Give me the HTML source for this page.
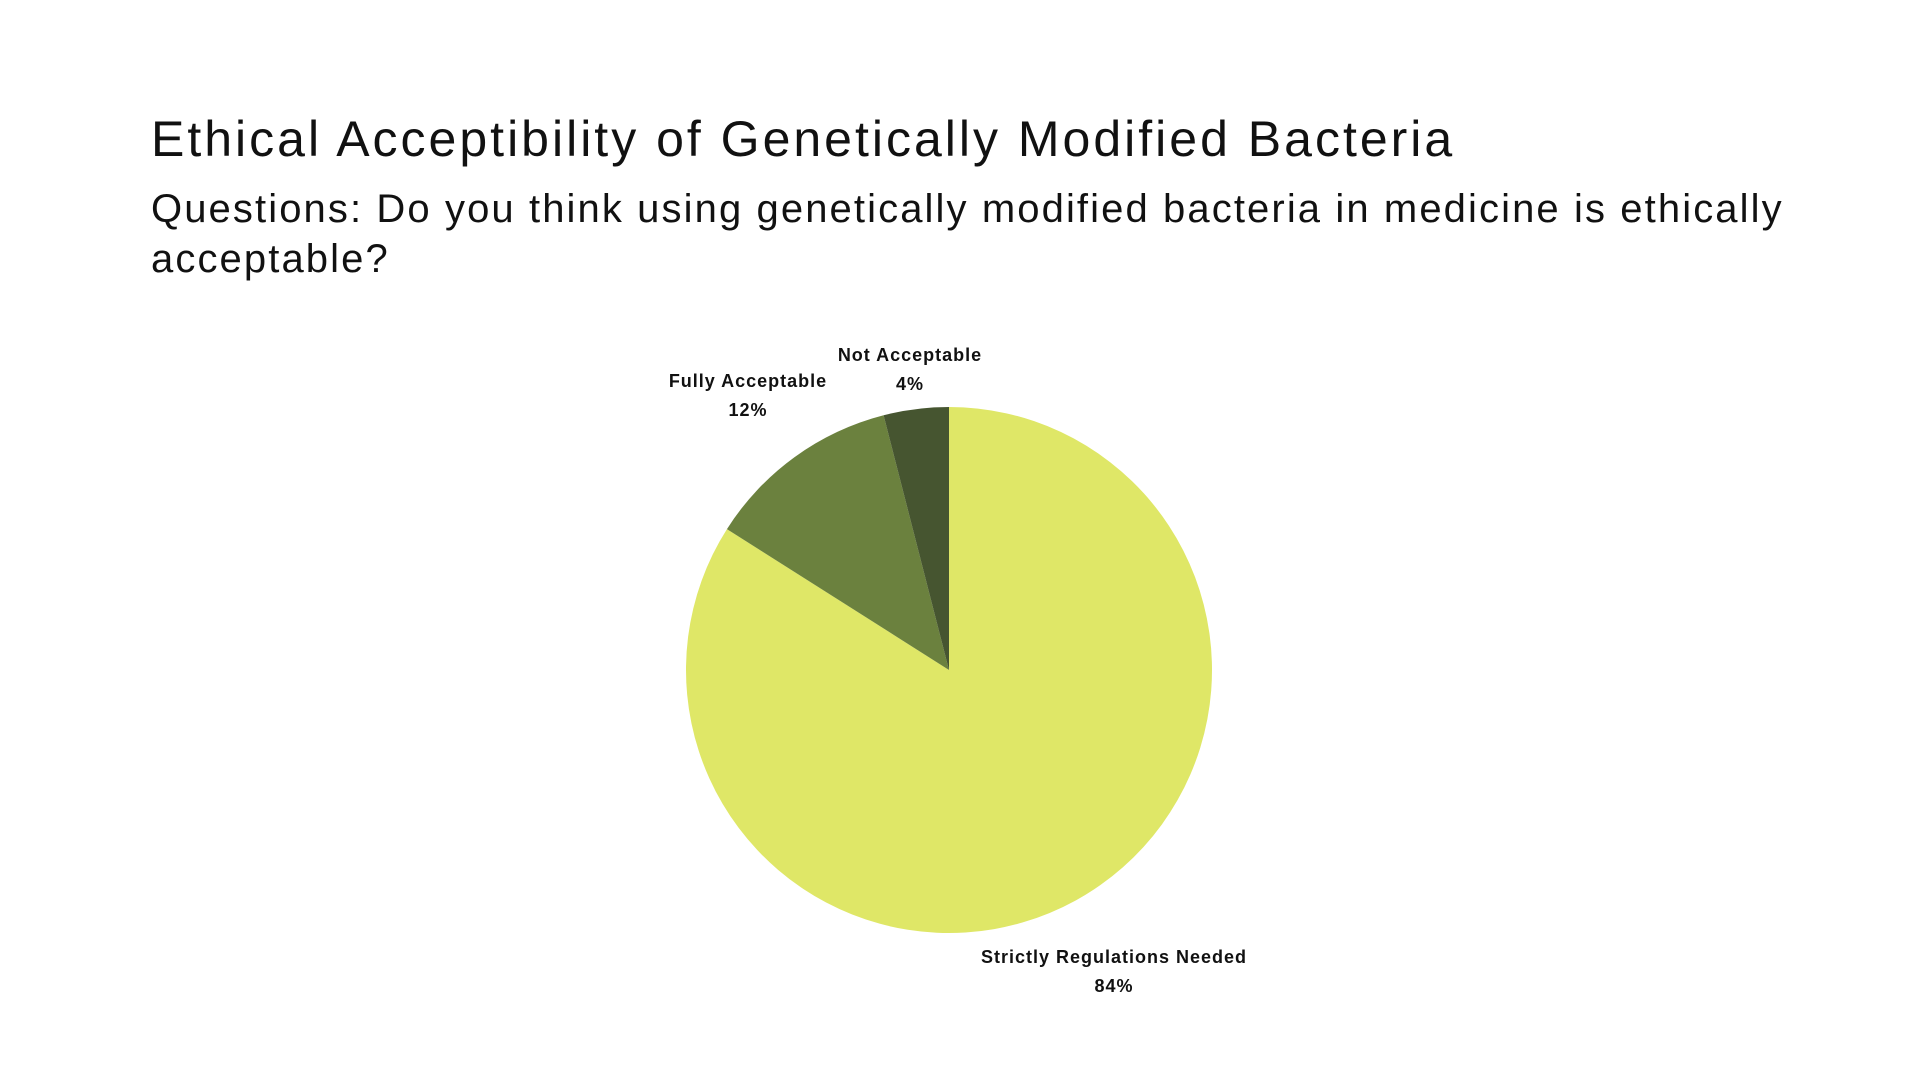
<!DOCTYPE html>
<html><head><meta charset="utf-8"><style>
body{margin:0;width:1920px;height:1080px;background:#fff;overflow:hidden;font-family:"Liberation Sans",sans-serif;}
#title{position:absolute;left:151px;top:110px;font-size:50px;color:#111;white-space:nowrap;letter-spacing:3px;}
#sub{position:absolute;left:151px;top:184px;font-size:40px;line-height:50px;color:#111;width:1680px;letter-spacing:2.1px;}
svg{position:absolute;left:0;top:0;}
</style></head><body>
<div id="title">Ethical Acceptibility of Genetically Modified Bacteria</div>
<div id="sub">Questions: Do you think using genetically modified bacteria in medicine is ethically acceptable?</div>
<svg id="chart" width="1920" height="1080"></svg>
<script>
const categories=["Strictly Regulations Needed","Fully Acceptable","Not Acceptable"];
const values=[84,12,4];
const colors=["#DFE767","#6B813E","#465530"];
const cx=949,cy=670,r=263;
const ns="http://www.w3.org/2000/svg";
const svg=document.getElementById('chart');
const total=values.reduce((a,b)=>a+b,0);
let a0=0;
const labelPos=[[1114,963],[748,387],[910,361]];
values.forEach((v,i)=>{
  const a1=a0+v/total*2*Math.PI;
  const x0=cx+r*Math.sin(a0),y0=cy-r*Math.cos(a0),x1=cx+r*Math.sin(a1),y1=cy-r*Math.cos(a1);
  const p=document.createElementNS(ns,'path');
  p.setAttribute('d',`M${cx},${cy}L${x0},${y0}A${r},${r} 0 ${a1-a0>Math.PI?1:0} 1 ${x1},${y1}Z`);
  p.setAttribute('fill',colors[i]);
  
  
  svg.appendChild(p);
  const [lx,ly]=labelPos[i];
  const t=document.createElementNS(ns,'text');
  t.setAttribute('x',lx);t.setAttribute('y',ly);t.setAttribute('text-anchor','middle');
  t.setAttribute('font-size','18');t.setAttribute('font-weight','bold');t.setAttribute('fill','#111');
  t.setAttribute('letter-spacing','1');
  t.setAttribute('font-family','Liberation Sans, sans-serif');
  t.textContent=categories[i];
  
  
  svg.appendChild(t);
  const t2=t.cloneNode();
  t2.setAttribute('y',ly+29);
  t2.textContent=v+'%';
  
  
  svg.appendChild(t2);
  a0=a1;
});
</script>
</body></html>
